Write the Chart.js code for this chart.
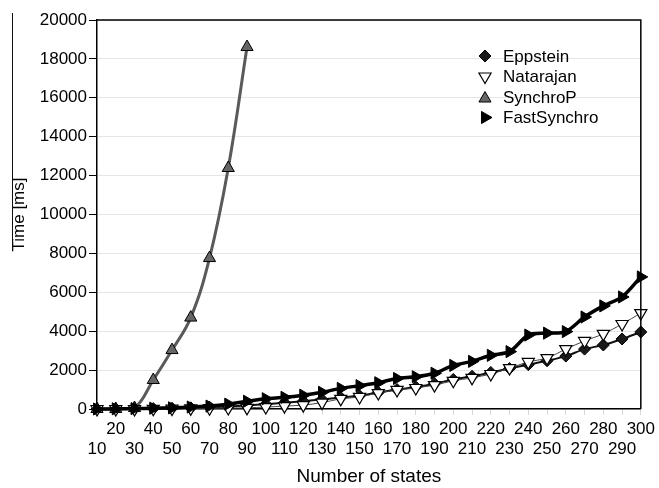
<!DOCTYPE html>
<html>
<head>
<meta charset="utf-8">
<script src="https://cdn.jsdelivr.net/npm/chart.js@4.4.1/dist/chart.umd.min.js"></script>
<style>
  html, body { margin: 0; padding: 0; background: #fff; }
  #wrap { position: relative; width: 659px; height: 488px; }
  #edge { position: absolute; left: 12px; top: 13px; width: 1px; height: 236px; background: #111; }
</style>
</head>
<body>
<div id="wrap">
  <canvas id="c" width="659" height="488"></canvas>
  <div id="edge"></div>
</div>
<script>
// ---- data ----
const states = [10,20,30,40,50,60,70,80,90,100,110,120,130,140,150,160,170,180,190,200,210,220,230,240,250,260,270,280,290,300];
const eppstein = [0,5,10,20,40,60,90,130,180,250,320,400,490,590,680,850,1000,1130,1300,1520,1680,1880,2080,2280,2480,2720,3080,3290,3600,3960];
const natarajan = [0,0,0,10,20,30,40,50,60,100,150,200,330,520,620,820,980,1080,1230,1450,1600,1800,2100,2420,2620,3080,3500,3860,4370,4930];
const synchroP = [0,0,50,1490,3030,4700,7760,12390,18610,null,null,null,null,null,null,null,null,null,null,null,null,null,null,null,null,null,null,null,null,null];
const fastSynchro = [0,10,20,40,60,100,150,250,400,530,600,710,860,1060,1200,1350,1570,1660,1840,2240,2450,2760,2950,3800,3900,3980,4730,5300,5760,6790];
const yTicks = [0,2000,4000,6000,8000,10000,12000,14000,16000,18000,20000];

const FONT = '"Liberation Sans", Arial, sans-serif';

const datasets = [
  { label: 'Eppstein', data: eppstein, borderColor: '#111', borderWidth: 2,
    pointStyle: 'rectRot', pointRadius: 6, pointBackgroundColor: '#1a1a1a', pointBorderColor: '#000', pointBorderWidth: 1, pointRotation: 0, order: 2, tension: 0.3 },
  { label: 'Natarajan', data: natarajan, borderColor: '#444', borderWidth: 1,
    pointStyle: 'triangle', pointRadius: 7, pointBackgroundColor: '#fff', pointBorderColor: '#000', pointBorderWidth: 1.2, pointRotation: 180, order: 1, tension: 0.3 },
  { label: 'SynchroP', data: synchroP, borderColor: '#5a5a5a', borderWidth: 3,
    pointStyle: 'triangle', pointRadius: 7, pointBackgroundColor: '#666', pointBorderColor: '#000', pointBorderWidth: 1, pointRotation: 0, order: 3, tension: 0.4 },
  { label: 'FastSynchro', data: fastSynchro, borderColor: '#000', borderWidth: 3.5,
    pointStyle: 'triangle', pointRadius: 7, pointBackgroundColor: '#000', pointBorderColor: '#000', pointBorderWidth: 1, pointRotation: 90, order: 0, tension: 0.3 }
];
datasets.forEach(d => { d.fill = false; d.clip = false; d.spanGaps = false; });

function drawMarker(ctx, style, rot, r, x, y, fill, stroke, lw) {
  ctx.save();
  ctx.translate(x, y);
  ctx.rotate(rot * Math.PI / 180);
  ctx.beginPath();
  if (style === 'rectRot') {
    ctx.moveTo(0, -r); ctx.lineTo(r, 0); ctx.lineTo(0, r); ctx.lineTo(-r, 0);
  } else {
    ctx.moveTo(0, -r);
    ctx.lineTo(Math.sin(2 * Math.PI / 3) * r, -Math.cos(2 * Math.PI / 3) * r);
    ctx.lineTo(Math.sin(4 * Math.PI / 3) * r, -Math.cos(4 * Math.PI / 3) * r);
  }
  ctx.closePath();
  ctx.fillStyle = fill; ctx.fill();
  ctx.lineWidth = lw; ctx.strokeStyle = stroke; ctx.stroke();
  ctx.restore();
}

const framePlugin = {
  id: 'frame',
  afterDraw(chart) {
    const { ctx, chartArea: a } = chart;
    ctx.save();
    ctx.strokeStyle = '#000';
    ctx.lineWidth = 1.5;
    ctx.beginPath();
    ctx.moveTo(a.left, a.top); ctx.lineTo(a.right, a.top); ctx.lineTo(a.right, a.bottom);
    ctx.stroke();
    // legend inside the plot
    const order = [0, 1, 2, 3];
    const x0 = 485, y0 = 56, step = 20.5;
    ctx.font = '17px ' + FONT;
    ctx.textBaseline = 'middle';
    ctx.textAlign = 'left';
    order.forEach((i, k) => {
      const d = chart.data.datasets[i];
      const y = y0 + k * step;
      const r = d.pointStyle === 'rectRot' ? 6 : 7;
      drawMarker(ctx, d.pointStyle, d.pointRotation, r, x0, y + (d.pointRotation === 0 && d.pointStyle === 'triangle' ? 1.5 : 0), d.pointBackgroundColor, d.pointBorderColor, d.pointBorderWidth);
      ctx.fillStyle = '#000';
      ctx.fillText(d.label, 503, y + 1);
    });
    ctx.restore();
  }
};

new Chart(document.getElementById('c'), {
  type: 'line',
  data: { labels: states, datasets },
  options: {
    responsive: false,
    animation: false,
    events: [],
    layout: { padding: { left: 0, right: 14, top: 20, bottom: 0 } },
    plugins: { legend: { display: false }, tooltip: { enabled: false } },
    scales: {
      x: {
        type: 'category',
        offset: false,
        afterFit: (s) => { s.height = 79; },
        grid: { drawOnChartArea: false, drawTicks: true, tickLength: 6, tickColor: '#d8d8d8' },
        border: { display: true, color: '#000', width: 1.5 },
        ticks: {
          autoSkip: false, maxRotation: 0, minRotation: 0, padding: 4,
          color: '#000', font: { family: FONT, size: 17, lineHeight: 1.2 },
          callback: function (val, idx) {
            const s = String(states[idx]);
            return idx % 2 === 0 ? ['', s] : [s, ''];
          }
        },
        title: { display: true, text: 'Number of states', color: '#000',
          font: { family: FONT, size: 19 }, padding: { top: 4, bottom: 0 } }
      },
      y: {
        min: 0, max: 20000,
        afterBuildTicks: (s) => { s.ticks = yTicks.map(v => ({ value: v })); },
        afterFit: (s) => { s.width = 97; },
        grid: { color: '#e6e6e6', lineWidth: 1, tickColor: '#000', tickLength: 8, drawTicks: true },
        border: { display: true, color: '#000', width: 1.5 },
        ticks: { padding: 2, color: '#000', font: { family: FONT, size: 17 },
          callback: (v) => String(v) },
        title: { display: true, text: 'Time [ms]', color: '#000',
          font: { family: FONT, size: 17 }, padding: { top: 9, bottom: 0 } }
      }
    }
  },
  plugins: [framePlugin]
});
</script>
</body>
</html>
